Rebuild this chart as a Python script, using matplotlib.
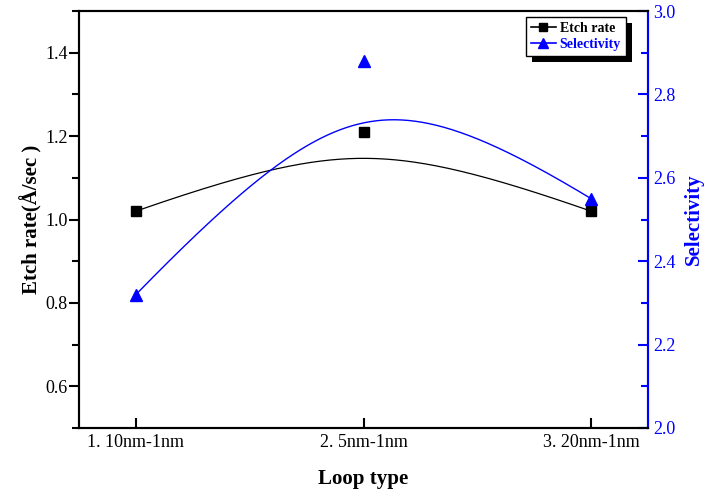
import numpy as np
import matplotlib
matplotlib.use("Agg")
import matplotlib.pyplot as plt
from matplotlib.lines import Line2D
from matplotlib.patches import Rectangle
from matplotlib.ticker import MultipleLocator

# data
loop_types = ["1. 10nm-1nm", "2. 5nm-1nm", "3. 20nm-1nm"]
loop_pos = [1, 2, 3]
etch_rate = [1.02, 1.21, 1.02]
selectivity = [2.32, 2.88, 2.55]

plt.rcParams['font.family'] = ['Liberation Serif', 'DejaVu Serif']


def bspline_curve(xs, ys, w=2.0, n=200):
    # rational quadratic bezier through the 3 control points (Origin-like smoothing)
    t = np.linspace(0, 1, n)
    b0 = (1 - t) ** 2
    b1 = 2 * w * t * (1 - t)
    b2 = t ** 2
    den = b0 + b1 + b2
    cx = (b0 * xs[0] + b1 * xs[1] + b2 * xs[2]) / den
    cy = (b0 * ys[0] + b1 * ys[1] + b2 * ys[2]) / den
    return cx, cy


fig = plt.figure(figsize=(7.16, 4.95), dpi=100)
ax = fig.add_axes([79 / 716, 67 / 495, 569 / 716, 417 / 495])
ax2 = ax.twinx()

# etch rate (left axis)
cx, cy = bspline_curve(loop_pos, etch_rate)
ax.plot(cx, cy, color='black', lw=0.9)
ax.plot(loop_pos, etch_rate, 's', color='black', ms=6.5, ls='none')

# selectivity (right axis)
cx, cy = bspline_curve(loop_pos, selectivity)
ax2.plot(cx, cy, color='blue', lw=1.0)
ax2.plot(loop_pos, selectivity, '^', color='blue', ms=8, ls='none')

ax.set_xlim(0.75, 3.25)
ax.set_ylim(0.5, 1.5)
ax2.set_ylim(2.0, 3.0)

ax.set_xticks(loop_pos)
ax.set_xticklabels(loop_types, fontsize=13)
ax.yaxis.set_major_locator(MultipleLocator(0.2))
ax.yaxis.set_minor_locator(MultipleLocator(0.1))
ax.set_yticks([0.6, 0.8, 1.0, 1.2, 1.4])
ax2.yaxis.set_major_locator(MultipleLocator(0.2))
ax2.yaxis.set_minor_locator(MultipleLocator(0.1))

ax.tick_params(axis='x', direction='in', length=7, width=1.5, labelsize=13, pad=4)
ax.tick_params(axis='y', which='major', direction='out', length=7, width=1.5, labelsize=13, pad=1)
ax.tick_params(axis='y', which='minor', direction='out', length=5, width=1.5)
ax2.tick_params(axis='y', which='major', direction='in', length=7, width=1.5,
                color='blue', labelcolor='blue', labelsize=13)
ax2.tick_params(axis='y', which='minor', direction='in', length=5, width=1.5, color='blue')

for sp in ax.spines.values():
    sp.set_linewidth(1.5)
for sp in ax2.spines.values():
    sp.set_linewidth(1.5)
ax2.spines['right'].set_color('blue')

ax.set_xlabel("Loop type", fontsize=15, fontweight='bold', labelpad=13)
ax.set_ylabel("Etch rate(Å/sec )", fontsize=15, fontweight='bold', labelpad=2)
ax2.set_ylabel("Selectivity", fontsize=15, fontweight='bold', color='blue', labelpad=6)

handles = [
    Line2D([], [], color='black', marker='s', ms=6, lw=1.2),
    Line2D([], [], color='blue', marker='^', ms=7, lw=1.2),
]
leg = ax2.legend(handles, ["Etch rate", "Selectivity"], loc='upper right',
                 bbox_to_anchor=(0.961, 0.986), borderaxespad=0, fancybox=False,
                 framealpha=1, edgecolor='black', handlelength=1.8, handletextpad=0.3,
                 borderpad=0.35, labelspacing=0.25, prop={'weight': 'bold', 'size': 10})
leg.get_frame().set_linewidth(1.0)
leg.get_texts()[1].set_color('blue')

# black drop shadow behind the legend box
fig.canvas.draw()
bb = leg.get_window_extent()
shadow = Rectangle((bb.x0 + 6, bb.y0 - 6), bb.width, bb.height, transform=None,
                   facecolor='black', edgecolor='none', zorder=leg.get_zorder() - 0.1)
ax2.add_artist(shadow)

fig.savefig("out.png", dpi=100)
